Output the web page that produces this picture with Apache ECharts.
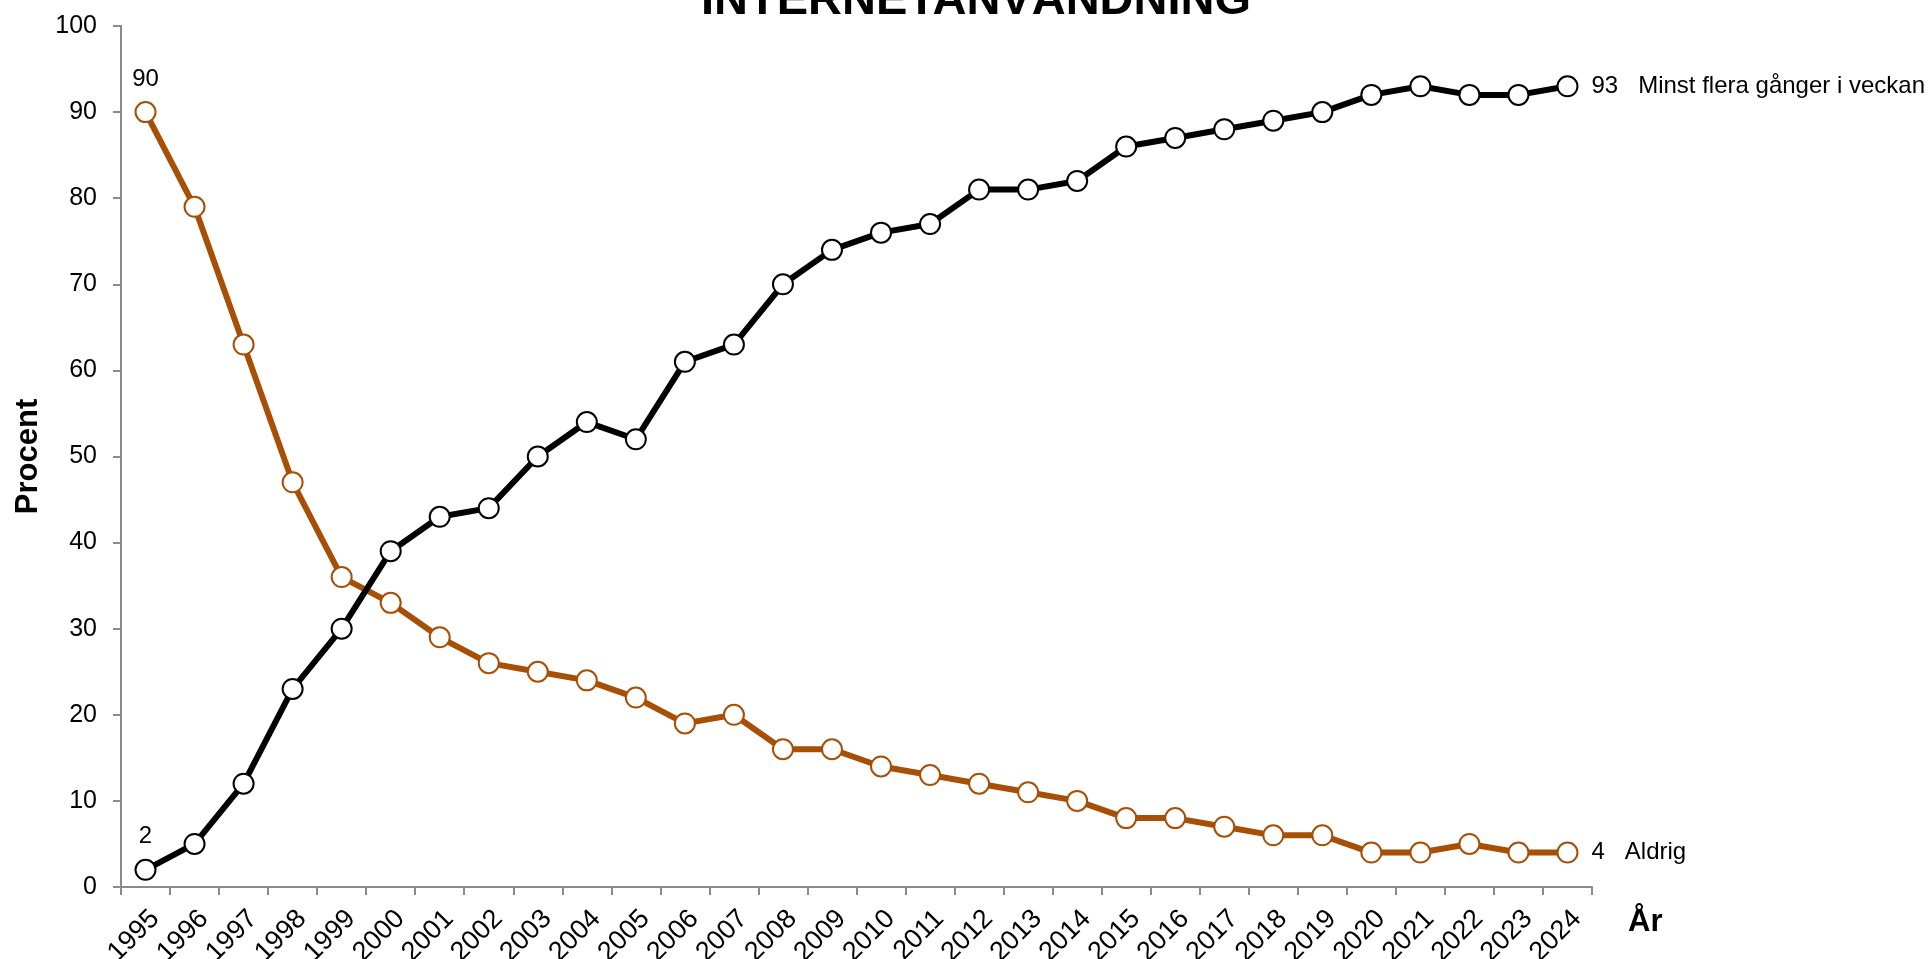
<!DOCTYPE html>
<html>
<head>
<meta charset="utf-8">
<script src="https://cdn.jsdelivr.net/npm/echarts@6/dist/echarts.min.js"></script>
<style>
  html, body { margin: 0; padding: 0; background: #fff; }
  #chart { width: 1930px; height: 959px; }
</style>
</head>
<body>
<div id="chart"></div>
<script>
// Data
const years = ['1995', '1996', '1997', '1998', '1999', '2000', '2001', '2002', '2003', '2004',
  '2005', '2006', '2007', '2008', '2009', '2010', '2011', '2012', '2013', '2014',
  '2015', '2016', '2017', '2018', '2019', '2020', '2021', '2022', '2023', '2024'];
const weekly = [2, 5, 12, 23, 30, 39, 43, 44, 50, 54, 52, 61, 63, 70, 74, 76, 77, 81, 81, 82,
  86, 87, 88, 89, 90, 92, 93, 92, 92, 93];
const never = [90, 79, 63, 47, 36, 33, 29, 26, 25, 24, 22, 19, 20, 16, 16, 14, 13, 12, 11, 10,
  8, 8, 7, 6, 6, 4, 4, 5, 4, 4];
const yTicks = { min: 0, max: 100, interval: 10 };

const FONT = "'Liberation Sans', Arial, sans-serif";
const AXIS_GRAY = '#8a8a8a';
const ORANGE = '#a84f06';

const chart = echarts.init(document.getElementById('chart'));

// same look for both series, only the colour differs
const makeSeries = (name, data, color) => ({
  name: name,
  type: 'line',
  data: data,
  symbol: 'circle',
  symbolSize: 20,
  lineStyle: { color: color, width: 6 },
  itemStyle: { color: '#fff', borderColor: color, borderWidth: 2 },
  label: {
    show: true,
    position: 'top',
    distance: 10,
    color: '#000',
    fontFamily: FONT,
    fontSize: 24,
    formatter: p => (p.dataIndex === 0 ? String(p.value) : '')
  },
  endLabel: {
    show: true,
    distance: 24,
    color: '#000',
    fontFamily: FONT,
    fontSize: 24,
    formatter: p => p.value + '   ' + p.seriesName
  },
  emphasis: { disabled: true },
  animation: false
});

const option = {
  animation: false,
  title: {
    text: 'INTERNETANVÄNDNING',
    left: 976,
    top: -22,
    textAlign: 'center',
    padding: 0,
    textStyle: { fontFamily: FONT, fontSize: 47, fontWeight: 'bold', color: '#000' }
  },
  grid: { left: 121, right: 338, top: 26, bottom: 72, containLabel: false, outerBoundsMode: 'none' },
  xAxis: {
    type: 'category',
    data: years,
    boundaryGap: true,
    name: 'År',
    nameLocation: 'end',
    nameGap: 36,
    nameTextStyle: {
      fontFamily: FONT, fontSize: 31, fontWeight: 'bold', color: '#000',
      verticalAlign: 'top', padding: [20, 0, 0, 0]
    },
    axisLine: { lineStyle: { color: AXIS_GRAY, width: 2 } },
    axisTick: { show: true, length: 8, lineStyle: { color: AXIS_GRAY, width: 2 } },
    axisLabel: {
      interval: 0, rotate: 45, margin: 18, align: 'right', verticalAlign: 'top',
      color: '#000', fontFamily: FONT, fontSize: 27
    },
    splitLine: { show: false }
  },
  yAxis: {
    type: 'value',
    min: yTicks.min,
    max: yTicks.max,
    interval: yTicks.interval,
    name: 'Procent',
    nameLocation: 'middle',
    nameRotate: 90,
    nameGap: 91,
    nameTextStyle: {
      fontFamily: FONT, fontSize: 31, fontWeight: 'bold', color: '#000', verticalAlign: 'middle'
    },
    axisLine: { show: true, lineStyle: { color: AXIS_GRAY, width: 2 } },
    axisTick: { show: true, length: 8, lineStyle: { color: AXIS_GRAY, width: 2 } },
    axisLabel: { margin: 24, color: '#000', fontFamily: FONT, fontSize: 25 },
    splitLine: { show: false }
  },
  series: [
    makeSeries('Aldrig', never, ORANGE),
    makeSeries('Minst flera gånger i veckan', weekly, '#000')
  ]
};

chart.setOption(option);
</script>
</body>
</html>
